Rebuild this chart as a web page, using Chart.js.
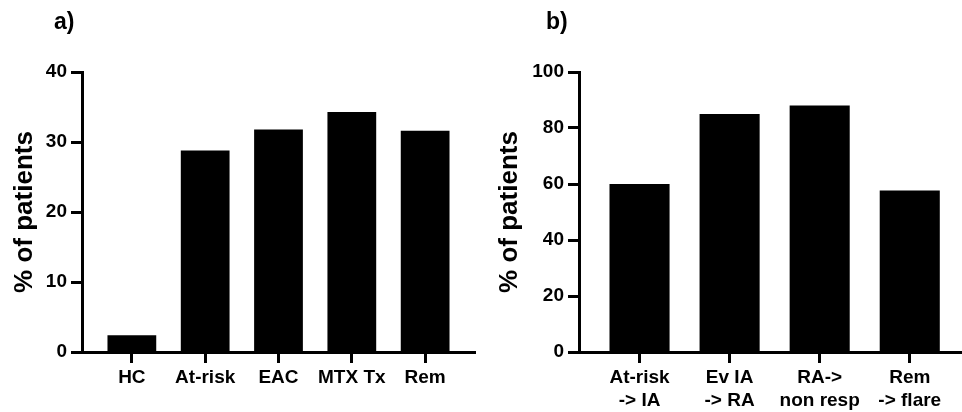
<!DOCTYPE html>
<html>
<head>
<meta charset="utf-8">
<script src="https://cdn.jsdelivr.net/npm/chart.js@4.4.1/dist/chart.umd.min.js"></script>
<style>
    html, body { margin: 0; padding: 0; background: #fff; overflow: hidden; }
    #wrap { position: relative; width: 962px; height: 412px; }
    canvas { position: absolute; top: 0; }
    #chartA { left: 0; }
    #chartB { left: 480px; }
</style>
</head>
<body>
<div id="wrap">
    <canvas id="chartA" width="480" height="412"></canvas>
    <canvas id="chartB" width="482" height="412"></canvas>
</div>
<script>
// Painel a)
const categoriesA = ['HC', 'At-risk', 'EAC', 'MTX Tx', 'Rem'];
const valuesA = [2.4, 28.8, 31.8, 34.3, 31.6];
const yTicksA = [0, 10, 20, 30, 40];

// Painel b)
const categoriesB = [['At-risk', '-> IA'], ['Ev IA', '-> RA'], ['RA->', 'non resp'], ['Rem', '-> flare']];
const valuesB = [60, 85, 88, 57.7];
const yTicksB = [0, 20, 40, 60, 80, 100];

const yTitle = '% of patients';
const FONT = "'Liberation Sans', Arial, sans-serif";

// Desenha a letra do painel
const panelLabelPlugin = {
    id: 'panelLabel',
    afterDraw(chart, args, opts) {
        const ctx = chart.ctx;
        ctx.save();
        ctx.font = 'bold 23px ' + FONT;
        ctx.fillStyle = '#000';
        ctx.textBaseline = 'alphabetic';
        ctx.fillText(opts.text, opts.x, opts.y);
        ctx.restore();
    }
};

function makeChart(canvasId, cfg) {
    const ctx = document.getElementById(canvasId).getContext('2d');
    const n = cfg.categories.length;
    return new Chart(ctx, {
        type: 'bar',
        data: {
            datasets: [{
                data: cfg.values.map((v, i) => ({ x: i + 1, y: v })),
                backgroundColor: '#000',
                borderColor: '#000',
                borderWidth: 0,
                categoryPercentage: 1,
                barPercentage: cfg.barPct
            }]
        },
        plugins: [panelLabelPlugin],
        options: {
            responsive: false,
            animation: false,
            devicePixelRatio: 1,
            layout: { padding: { left: 0, right: cfg.padRight, top: 72, bottom: 0 } },
            plugins: {
                legend: { display: false },
                tooltip: { enabled: false },
                panelLabel: { text: cfg.label, x: cfg.labelX, y: 28.5 }
            },
            scales: {
                x: {
                    type: 'linear',
                    offset: false,
                    min: 1 - cfg.edge,
                    max: n + cfg.edgeRight,
                    afterBuildTicks(scale) {
                        scale.ticks = cfg.categories.map((c, i) => ({ value: i + 1 }));
                    },
                    afterFit(scale) { scale.height = 60; },
                    grid: {
                        offset: false,
                        drawOnChartArea: false,
                        drawTicks: true,
                        tickLength: 11,
                        tickWidth: 3,
                        tickColor: '#000'
                    },
                    border: { display: true, color: '#000', width: 3 },
                    ticks: {
                        autoSkip: false,
                        maxRotation: 0,
                        padding: 3,
                        color: '#000',
                        font: { family: FONT, size: 19, weight: 'bold', lineHeight: 1.22 },
                        callback: (v) => cfg.categories[v - 1]
                    }
                },
                y: {
                    min: 0,
                    max: cfg.yTicks[cfg.yTicks.length - 1],
                    afterBuildTicks(scale) {
                        scale.ticks = cfg.yTicks.map(v => ({ value: v }));
                    },
                    afterFit(scale) { scale.width = cfg.yWidth; },
                    grid: {
                        drawOnChartArea: false,
                        drawTicks: true,
                        tickLength: 11,
                        tickWidth: 3,
                        tickColor: '#000'
                    },
                    border: { display: true, color: '#000', width: 3 },
                    ticks: {
                        padding: 4,
                        color: '#000',
                        font: { family: FONT, size: 19, weight: 'bold' }
                    },
                    title: {
                        display: true,
                        text: yTitle,
                        color: '#000',
                        padding: { top: cfg.titlePad, bottom: 0 },
                        font: { family: FONT, size: 26, weight: 'bold' }
                    }
                }
            }
        }
    });
}

document.addEventListener('DOMContentLoaded', function() {
    makeChart('chartA', {
        categories: categoriesA,
        values: valuesA,
        yTicks: yTicksA,
        barPct: 0.665,
        edge: 0.68,
        edgeRight: 0.68,
        yWidth: 82,
        padRight: 5,
        titlePad: 9,
        label: 'a)',
        labelX: 54
    });
    makeChart('chartB', {
        categories: categoriesB,
        values: valuesB,
        yTicks: yTicksB,
        barPct: 0.667,
        edge: 0.672,
        edgeRight: 0.58,
        yWidth: 99,
        padRight: 0,
        titlePad: 14,
        label: 'b)',
        labelX: 66
    });
});
</script>
</body>
</html>
